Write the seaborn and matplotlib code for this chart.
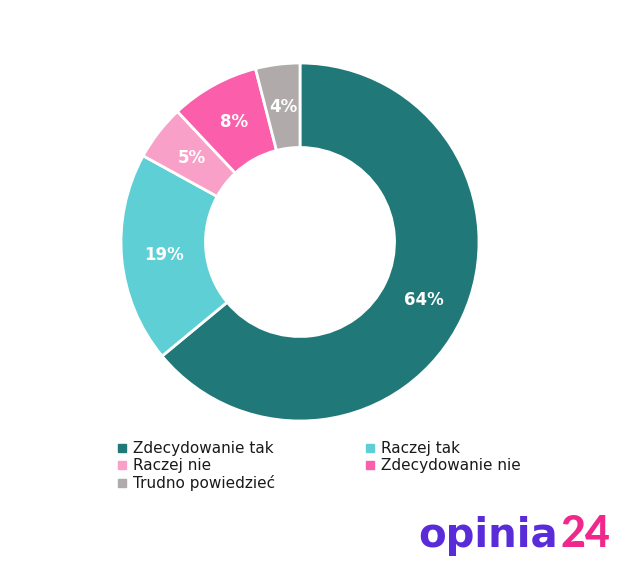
import matplotlib
matplotlib.use("Agg")
import matplotlib.pyplot as plt
import seaborn as sns
from matplotlib.lines import Line2D

categories = ["Zdecydowanie tak", "Raczej tak", "Raczej nie", "Zdecydowanie nie", "Trudno powiedzieć"]
values = [64, 19, 5, 8, 4]
colors = ["#217878", "#5fcfd6", "#f9a0c9", "#fb5fab", "#b0aaaa"]

sns.set_theme(style="white")
plt.rcParams["font.family"] = ["DejaVu Sans"]

W, H = 630, 568
fig = plt.figure(figsize=(W / 100, H / 100), dpi=100)
fig.patch.set_facecolor("white")

cx, cy, R = 300, 242, 179
ax = fig.add_axes([(cx - R) / W, (H - cy - R) / H, 2 * R / W, 2 * R / H])
palette = sns.color_palette(colors)
wedges, texts, autotexts = ax.pie(
    values, colors=palette, startangle=90, counterclock=False, radius=1.0,
    wedgeprops=dict(width=0.472, edgecolor="white", linewidth=2),
    autopct=lambda p: f"{p:.0f}%", pctdistance=0.762,
    textprops=dict(color="white", fontsize=12, fontweight="bold"),
)
ax.set_xlim(-1, 1)
ax.set_ylim(-1, 1)
ax.set_aspect("equal")
ax.axis("off")

order = [0, 2, 4, 1, 3]
handles = [Line2D([], [], marker="s", linestyle="none", markersize=6,
                  markerfacecolor=colors[i], markeredgecolor=colors[i]) for i in order]
labels = [categories[i] for i in order]
leg = fig.legend(handles, labels, ncol=2, loc="upper left",
                 bbox_to_anchor=(117 / W, 1 - 441 / H), frameon=False,
                 fontsize=11, handlelength=0.6, handletextpad=0.45,
                 columnspacing=5.9, labelspacing=0.14, borderpad=0, borderaxespad=0)
for t in leg.get_texts():
    t.set_color("#1a1a1a")

fig.text(418 / W, 1 - 547 / H, "opinia", color="#5a2bd8", fontsize=29,
         fontweight="bold", ha="left", va="baseline", family="DejaVu Sans")
fig.text(610 / W, 1 - 547 / H, "24", color="#f0288c", fontsize=31,
         fontweight="black", ha="right", va="baseline", family="Lato")

fig.savefig("out.png", dpi=100, facecolor="white")
